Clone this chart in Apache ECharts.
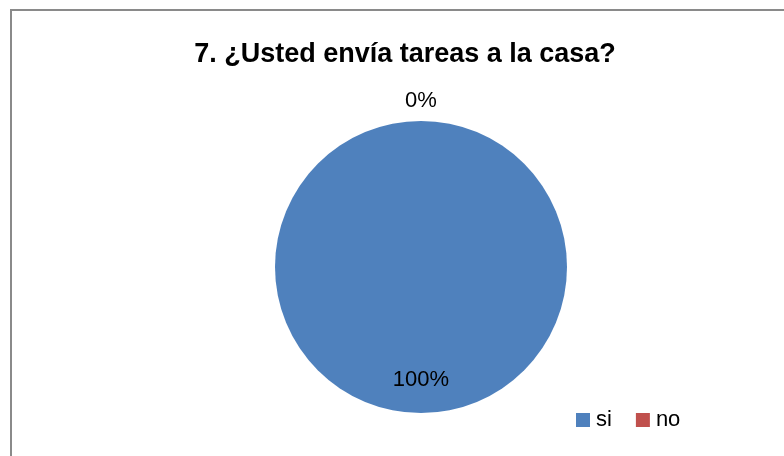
<!DOCTYPE html>
<html>
<head>
<meta charset="utf-8">
<script src="https://cdn.jsdelivr.net/npm/echarts@6/dist/echarts.min.js"></script>
<style>html,body{margin:0;padding:0;background:#fff}#c{width:784px;height:456px}</style>
</head>
<body>
<div id="c"></div>
<script>
const titleText = '7. ¿Usted envía tareas a la casa?';
const categories = ['si', 'no'];
const values = [100, 0];
const colors = ['#4F81BD', '#C0504D'];
const labelOffsets = [[0, 37], [0, -90]];

const chart = echarts.init(document.getElementById('c'), null, {renderer: 'canvas'});
const font = '"Liberation Sans", Arial, sans-serif';
chart.setOption({
  animation: false,
  backgroundColor: '#fff',
  title: {
    text: titleText,
    left: 400, top: 36, textAlign: 'center',
    textStyle: {fontFamily: font, fontWeight: 'bold', fontSize: 27, color: '#000'}
  },
  legend: {
    left: 571, top: 404,
    icon: 'rect', itemWidth: 14, itemHeight: 14, itemGap: 24,
    textStyle: {fontFamily: font, fontSize: 22, color: '#000', padding: [0,0,0,1]},
    data: categories
  },
  graphic: [{
    type: 'polyline', silent: true,
    shape: {points: [[11, 470], [11, 10], [800, 10]]},
    style: {stroke: '#8a8a8a', lineWidth: 2, fill: null}
  }],
  series: [{
    type: 'pie',
    center: [421, 267],
    radius: 146,
    startAngle: 90,
    clockwise: true,
    avoidLabelOverlap: false,
    stillShowZeroSum: true,
    itemStyle: {borderWidth: 0},
    labelLine: {show: false},
    emphasis: {disabled: true},
    data: categories.map((c, i) => ({
      name: c, value: values[i],
      itemStyle: {color: colors[i]},
      label: {
        show: true, position: 'inside', offset: labelOffsets[i],
        formatter: '{d}%', fontFamily: font, fontSize: 22, color: '#000'
      }
    }))
  }]
});
</script>
</body>
</html>
